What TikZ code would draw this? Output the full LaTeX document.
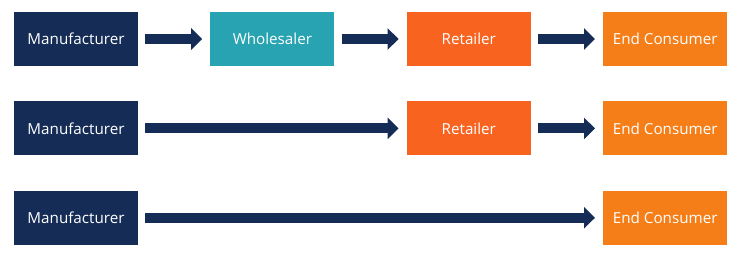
\documentclass[tikz,border=0pt]{standalone}
\usepackage{fontspec}
\setmainfont{Open Sans}
\usetikzlibrary{arrows.meta, positioning}
\definecolor{navy}{HTML}{152D56}
\definecolor{tealbox}{HTML}{27A3B1}
\definecolor{redorange}{HTML}{F8641F}
\definecolor{lightorange}{HTML}{F57E18}
\tikzset{
    box/.style={rectangle, minimum width=124pt, minimum height=54pt, inner sep=0pt, text=white, text centered, font=\fontsize{15.2}{17}\selectfont},
    maker/.style={box, fill=navy},
    wholesale/.style={box, fill=tealbox},
    retail/.style={box, fill=redorange},
    consumer/.style={box, fill=lightorange},
    flow/.style={navy, line width=10pt, shorten <=7pt, shorten >=8pt, -{Triangle[length=11pt, width=21pt]}}
}
\begin{document}
\begin{tikzpicture}[x=1pt, y=1pt, node distance=35pt and 72pt]

\useasboundingbox (0,0) rectangle (740,-260);

% Row 1: full chain
\node (maker1) [maker] at (76,-39) {Manufacturer};
\node (whole1) [wholesale, right=of maker1] {Wholesaler};
\node (retail1) [retail, right=of whole1] {Retailer};
\node (cons1) [consumer, right=of retail1] {End Consumer};

% Row 2: no wholesaler
\node (maker2) [maker, below=of maker1] {Manufacturer};
\node (retail2) [retail, below=of retail1] {Retailer};
\node (cons2) [consumer, below=of cons1] {End Consumer};

% Row 3: direct
\node (maker3) [maker, below=of maker2] {Manufacturer};
\node (cons3) [consumer, below=of cons2] {End Consumer};

% Arrows
\draw [flow] (maker1) -- (whole1);
\draw [flow] (whole1) -- (retail1);
\draw [flow] (retail1) -- (cons1);
\draw [flow] (maker2) -- (retail2);
\draw [flow] (retail2) -- (cons2);
\draw [flow] (maker3) -- (cons3);

\end{tikzpicture}
\end{document}
